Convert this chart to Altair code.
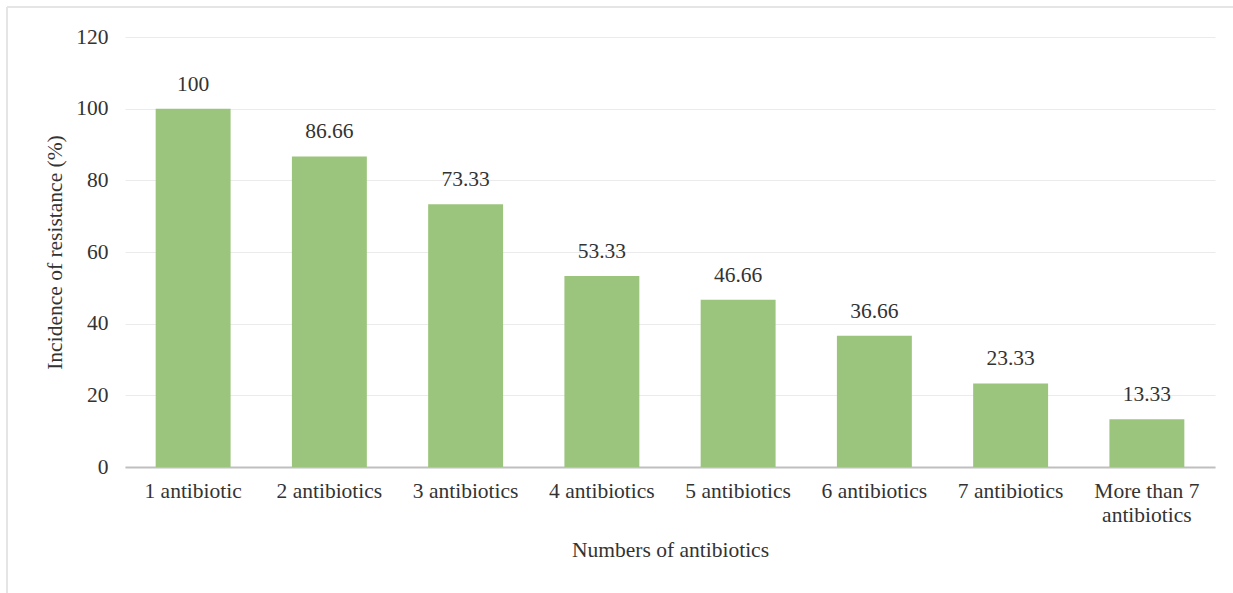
import altair as alt
import pandas as pd

categories = ["1 antibiotic", "2 antibiotics", "3 antibiotics", "4 antibiotics",
              "5 antibiotics", "6 antibiotics", "7 antibiotics", "More than 7|antibiotics"]
values = [100, 86.66, 73.33, 53.33, 46.66, 36.66, 23.33, 13.33]
value_labels = ["100", "86.66", "73.33", "53.33", "46.66", "36.66", "23.33", "13.33"]

df = pd.DataFrame({"cat": categories, "val": values, "lab": value_labels})

FONT = "'Liberation Serif', 'Times New Roman', 'DejaVu Serif', serif"
TXT = "#333333"
FS = 21.5

x_enc = alt.X("cat:N", sort=categories,
              scale=alt.Scale(paddingInner=0.45, paddingOuter=0.225),
              axis=alt.Axis(title="Numbers of antibiotics", labelAngle=0,
                            labelExpr="split(datum.label, '|')",
                            labelFont=FONT, labelFontSize=FS, labelColor=TXT,
                            labelPadding=13, labelLineHeight=24,
                            titleFont=FONT, titleFontSize=FS, titleColor=TXT,
                            titleFontWeight="normal", titleY=83, titleBaseline="middle",
                            ticks=False, domainColor="#BFBFBF", domainWidth=2,
                            grid=False))

y_enc = alt.Y("val:Q", scale=alt.Scale(domain=[0, 120]),
              axis=alt.Axis(title="Incidence of resistance (%)", values=[0, 20, 40, 60, 80, 100, 120],
                            labelFont=FONT, labelFontSize=FS, labelColor=TXT,
                            labelPadding=17, ticks=False, domain=False,
                            gridColor="#EBEBEB", gridWidth=1,
                            titleFont=FONT, titleFontSize=FS, titleColor=TXT,
                            titleFontWeight="normal", titleX=-70, titleY=215,
                            titleBaseline="middle", titleAlign="center"))

bars = alt.Chart(df).mark_bar(color="#9BC47C").encode(x=x_enc, y=y_enc)
labels = alt.Chart(df).mark_text(font=FONT, fontSize=FS, color=TXT, baseline="bottom", dy=-13).encode(
    x=alt.X("cat:N", sort=categories), y="val:Q", text="lab:N")

border_top = alt.Chart(df).mark_rule(color="#E4E4E4", strokeWidth=1.5).encode(
    x=alt.value(-118), x2=alt.value(1108), y=alt.value(-30))
border_left = alt.Chart(df).mark_rule(color="#E4E4E4", strokeWidth=1.5).encode(
    x=alt.value(-118), y=alt.value(-30), y2=alt.value(556))

chart = alt.layer(border_top, border_left, bars, labels).properties(
    width=1090, height=430,
    autosize=alt.AutoSizeParams(type="none"),
    padding={"left": 125, "top": 37, "right": 18, "bottom": 126},
    background="white",
).configure_view(stroke=None)

chart.save("out.html", embed_options={"renderer": "svg", "actions": False})
